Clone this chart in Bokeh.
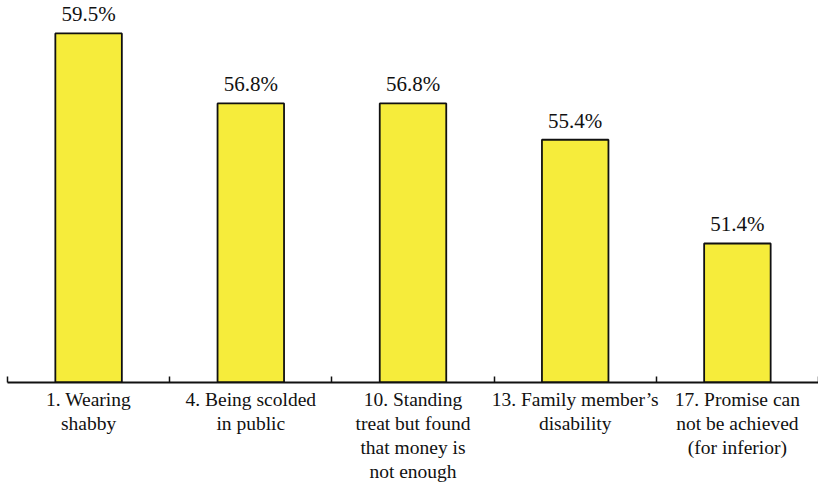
from bokeh.plotting import figure
from bokeh.models import FixedTicker, Range1d, ColumnDataSource
from bokeh.core.properties import value
from bokeh.embed import file_html
from bokeh.resources import INLINE

categories = [
    "1. Wearing\nshabby",
    "4. Being scolded\nin public",
    "10. Standing\ntreat but found\nthat money is\nnot enough",
    "13. Family member\u2019s\ndisability",
    "17. Promise can\nnot be achieved\n(for inferior)",
]
values = [59.5, 56.8, 56.8, 55.4, 51.4]
value_labels = ["59.5%", "56.8%", "56.8%", "55.4%", "51.4%"]

BASE = 46.04
TOP = 60.77
n = len(categories)
xs = [i + 0.5 for i in range(n)]

src = ColumnDataSource(dict(x=xs, top=values, lab=value_labels))

FONT = "Liberation Serif"

p = figure(width=818, height=490, output_backend="svg", toolbar_location=None,
           x_range=Range1d(0, n), y_range=Range1d(BASE, TOP),
           y_axis_location=None, min_border_left=7, min_border_right=0,
           min_border_top=0, min_border_bottom=0,
           frame_width=811, frame_height=382)
p.outline_line_color = None
p.xgrid.visible = False
p.ygrid.visible = False
p.background_fill_color = "white"

p.vbar(x="x", top="top", bottom=BASE, width=0.41, source=src,
       fill_color="#F6EC3B", line_color="#111111", line_width=1.8)

p.text(x="x", y="top", text="lab", source=src, text_align="center",
       text_baseline="bottom", y_offset=-7,
       text_font=value(FONT), text_font_size="21px",
       text_color="#111111")

ax = p.xaxis[0]
ax.ticker = FixedTicker(ticks=xs, minor_ticks=list(range(n + 1)))
ax.major_label_overrides = {x: c for x, c in zip(xs, categories)}
ax.major_tick_in = 0
ax.major_tick_out = 0
ax.minor_tick_in = 6
ax.minor_tick_out = 0
ax.minor_tick_line_color = "#111111"
ax.minor_tick_line_width = 1.5
ax.axis_line_color = "#111111"
ax.axis_line_width = 2
ax.major_label_text_font = FONT
ax.major_label_text_font_size = "19.5px"
ax.major_label_text_color = "#111111"
ax.major_label_standoff = 6
ax.major_label_text_line_height = 1.15

open("out.html", "w").write(file_html(p, INLINE))
